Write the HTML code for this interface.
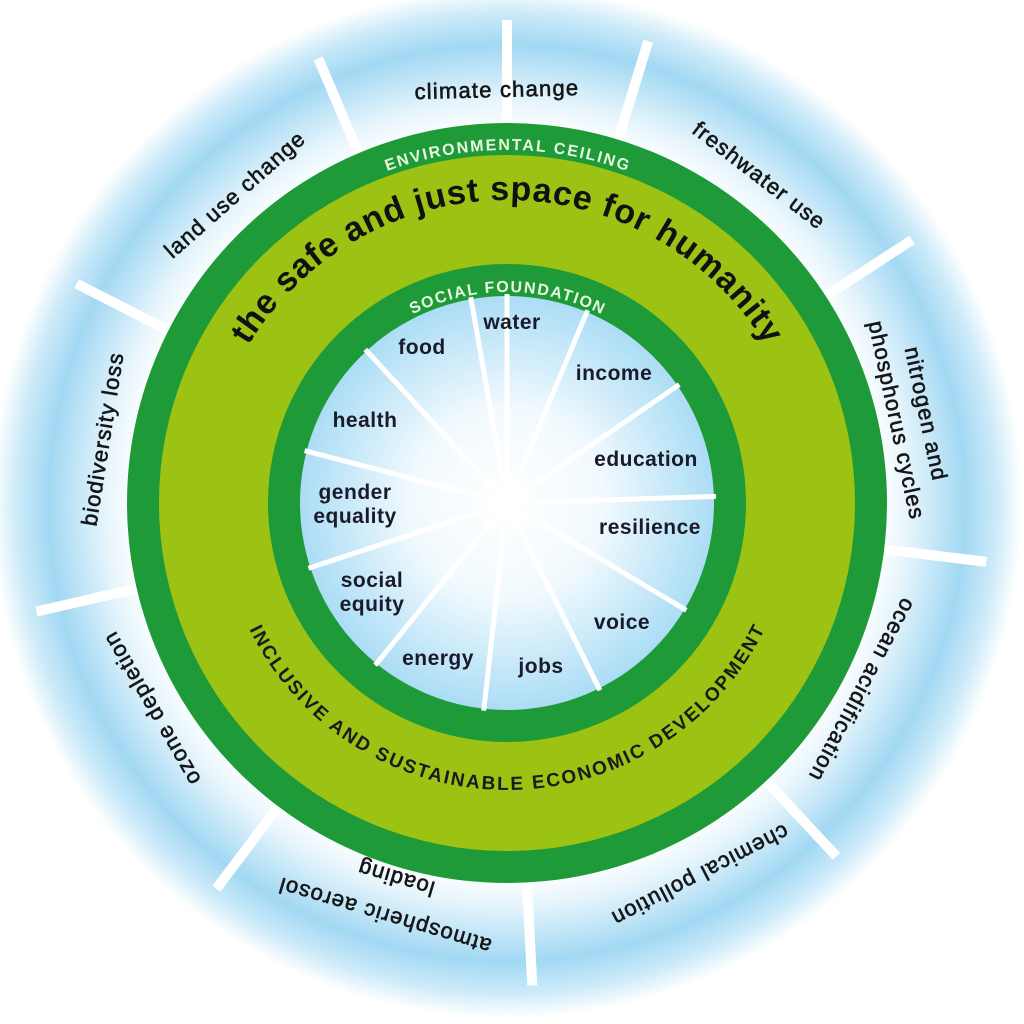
<!DOCTYPE html>
<html><head><meta charset="utf-8"><style>
html,body{margin:0;padding:0;background:#fff;}
svg{display:block;}
.o{font-family:"Liberation Sans",sans-serif;font-size:22px;letter-spacing:1.2px;fill:#161616;stroke:#161616;stroke-width:0.6;text-anchor:middle;}
.i{font-family:"Liberation Sans",sans-serif;font-size:21px;letter-spacing:0.5px;font-weight:bold;fill:#1a1a2a;text-anchor:middle;}
</style></head><body>
<svg width="1024" height="1024" viewBox="0 0 1024 1024" xmlns="http://www.w3.org/2000/svg">
<defs>
<radialGradient id="bg" cx="507" cy="503" r="515" gradientUnits="userSpaceOnUse">
<stop offset="0.72" stop-color="#ffffff"/>
<stop offset="0.78" stop-color="#e6f5fc"/>
<stop offset="0.89" stop-color="#a2d8f3"/>
<stop offset="0.95" stop-color="#cbeaf9"/>
<stop offset="1" stop-color="#ffffff"/>
</radialGradient>
<radialGradient id="cg" cx="507" cy="503" r="210" gradientUnits="userSpaceOnUse">
<stop offset="0" stop-color="#ffffff"/>
<stop offset="0.45" stop-color="#f2fafe"/>
<stop offset="1" stop-color="#a9dcf5"/>
</radialGradient>
<path id="tEnv" d="M 154 503 A 353 353 0 0 1 860 503"/>
<path id="tTitle" d="M 204 503 A 303 303 0 0 1 810 503"/>
<path id="tSoc" d="M 296 503 A 211 211 0 0 1 718 503"/>
<path id="tBot" d="M 220 503 A 287 287 0 0 0 794 503"/>
</defs>
<rect width="1024" height="1024" fill="#fff"/>
<circle cx="507" cy="503" r="515" fill="url(#bg)"/>
<g stroke="#fff" stroke-width="10">
<g id="dl"><line x1="507" y1="123" x2="507" y2="20"/></g>
<use href="#dl" transform="rotate(17 507 503)"/>
<use href="#dl" transform="rotate(57 507 503)"/>
<use href="#dl" transform="rotate(97 507 503)"/>
<use href="#dl" transform="rotate(137 507 503)"/>
<use href="#dl" transform="rotate(177 507 503)"/>
<use href="#dl" transform="rotate(217 507 503)"/>
<use href="#dl" transform="rotate(257 507 503)"/>
<use href="#dl" transform="rotate(297 507 503)"/>
<use href="#dl" transform="rotate(337 507 503)"/>
</g>
<circle cx="507" cy="503" r="380" fill="#1f9a38"/>
<circle cx="507" cy="503" r="348" fill="#9cc313"/>
<circle cx="507" cy="503" r="239" fill="#1f9a38"/>
<circle cx="507" cy="503" r="207" fill="url(#cg)"/>
<g stroke="#fff" stroke-width="5">
<g id="sp"><line x1="507" y1="503" x2="507" y2="294"/></g>
<use href="#sp" transform="rotate(-10 507 503)"/>
<use href="#sp" transform="rotate(22.7 507 503)"/>
<use href="#sp" transform="rotate(55.5 507 503)"/>
<use href="#sp" transform="rotate(88.2 507 503)"/>
<use href="#sp" transform="rotate(120.9 507 503)"/>
<use href="#sp" transform="rotate(153.6 507 503)"/>
<use href="#sp" transform="rotate(186.4 507 503)"/>
<use href="#sp" transform="rotate(219.1 507 503)"/>
<use href="#sp" transform="rotate(251.8 507 503)"/>
<use href="#sp" transform="rotate(284.5 507 503)"/>
<use href="#sp" transform="rotate(317.3 507 503)"/>
</g>
<text font-family="Liberation Sans, sans-serif" font-size="16" font-weight="bold" fill="#e8f7df"><textPath href="#tEnv" startOffset="50%" text-anchor="middle" textLength="245">ENVIRONMENTAL CEILING</textPath></text>
<text font-family="Liberation Sans, sans-serif" font-size="34" font-weight="bold" fill="#111"><textPath href="#tTitle" startOffset="50%" text-anchor="middle" textLength="620">the safe and just space for humanity</textPath></text>
<text font-family="Liberation Sans, sans-serif" font-size="16" font-weight="bold" fill="#e8f7df"><textPath href="#tSoc" startOffset="50%" text-anchor="middle" textLength="196">SOCIAL FOUNDATION</textPath></text>
<text font-family="Liberation Sans, sans-serif" font-size="19" font-weight="bold" fill="#1a1a1a"><textPath href="#tBot" startOffset="50%" text-anchor="middle" textLength="640">INCLUSIVE AND SUSTAINABLE ECONOMIC DEVELOPMENT</textPath></text>
<text class="i" x="422" y="354">food</text>
<text class="i" x="512" y="329">water</text>
<text class="i" x="614" y="380">income</text>
<text class="i" x="646" y="466">education</text>
<text class="i" x="650" y="534">resilience</text>
<text class="i" x="622" y="629">voice</text>
<text class="i" x="541" y="673">jobs</text>
<text class="i" x="438" y="665">energy</text>
<text class="i" x="372" y="587">social</text>
<text class="i" x="372" y="611">equity</text>
<text class="i" x="355" y="499">gender</text>
<text class="i" x="355" y="523">equality</text>
<text class="i" x="365" y="427">health</text>
<text class="o" x="507" y="97" transform="rotate(-1.4 507 503)">climate change</text>
<text class="o" x="507" y="97" transform="rotate(37.6 507 503)">freshwater use</text>
<text class="o" x="507" y="99" transform="rotate(-41.4 507 503)">land use change</text>
<text class="o" x="507" y="82" transform="rotate(78 507 503)">nitrogen and</text>
<text class="o" x="507" y="112" transform="rotate(78 507 503)">phosphorus cycles</text>
<text class="o" x="507" y="109" transform="rotate(117.8 507 503)">ocean acidification</text>
<text class="o" x="507" y="91" transform="rotate(152.6 507 503)">chemical pollution</text>
<text class="o" x="507" y="80" transform="rotate(196.5 507 503)">atmospheric aerosol</text>
<text class="o" x="507" y="119" transform="rotate(196.5 507 503)">loading</text>
<text class="o" x="507" y="100" transform="rotate(240 507 503)">ozone depletion</text>
<text class="o" x="507" y="101" transform="rotate(279 507 503)">biodiversity loss</text>
</svg>
</body></html>
